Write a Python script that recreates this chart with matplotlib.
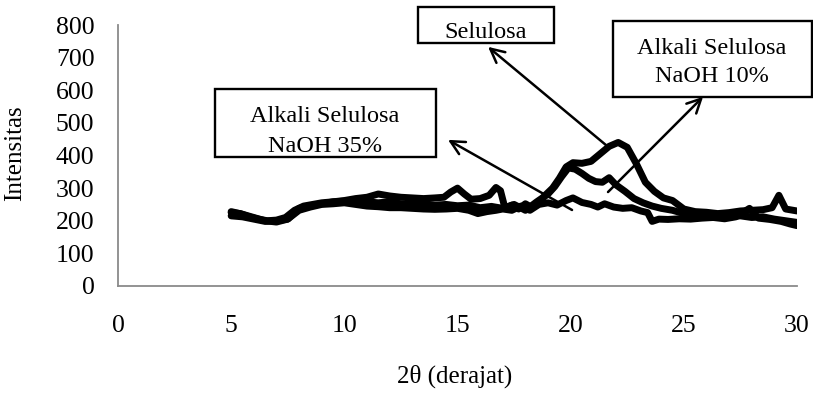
import matplotlib
matplotlib.use("Agg")
import matplotlib.pyplot as plt
from matplotlib.patches import Rectangle

# Difractogramas leidos a ojo de la figura original
x_sel = [5.0, 5.4, 5.8, 6.2, 6.6, 7.0, 7.4, 7.8, 8.2, 8.6, 9.0, 9.5, 10.0, 10.5, 11.0, 11.5, 12.0, 12.5,
         13.0, 13.5, 14.0, 14.4, 14.7, 15.0, 15.3, 15.6, 16.0, 16.4, 16.7, 16.9, 17.1, 17.4, 17.7, 18.0,
         18.3, 18.6, 18.9, 19.2, 19.5, 19.8, 20.1, 20.5, 20.9, 21.3, 21.7, 22.1, 22.5, 22.9, 23.3, 23.7,
         24.1, 24.5, 25.0, 25.5, 26.0, 26.5, 27.0, 27.5, 28.0, 28.5, 28.9, 29.2, 29.5, 30.0]
y_sel = [225, 222, 212, 205, 200, 202, 210, 232, 245, 250, 255, 258, 262, 268, 272, 282, 276, 272,
         270, 268, 270, 272, 288, 300, 282, 266, 268, 278, 302, 292, 238, 248, 236, 252,
         240, 255, 280, 300, 330, 365, 378, 376, 382, 405, 428, 440, 425, 375, 318, 290,
         270, 262, 236, 228, 226, 222, 225, 230, 232, 234, 240, 278, 236, 230]

x_10 = [5.0, 5.5, 6.0, 6.5, 7.0, 7.5, 8.0, 8.5, 9.0, 9.5, 10.0, 10.5, 11.0, 11.5, 12.0, 12.5, 13.0, 13.5,
        14.0, 14.5, 15.0, 15.5, 16.0, 16.5, 17.0, 17.5, 18.0, 18.5, 19.0, 19.3, 19.6, 19.9, 20.2, 20.5,
        20.8, 21.1, 21.4, 21.7, 22.0, 22.4, 22.8, 23.2, 23.6, 24.0, 24.5, 25.0, 25.5, 26.0, 26.5, 27.0,
        27.5, 28.0, 28.5, 29.0, 29.5, 30.0]
y_10 = [228, 220, 210, 200, 196, 205, 238, 246, 252, 258, 260, 262, 258, 255, 258, 252, 250, 252,
        248, 250, 246, 248, 240, 244, 238, 250, 232, 258, 282, 305, 335, 362, 358, 345,
        330, 320, 318, 332, 310, 290, 268, 255, 245, 238, 232, 222, 216, 212, 210, 212,
        215, 210, 212, 205, 200, 195]

x_35 = [5.0, 5.5, 6.0, 6.5, 7.0, 7.5, 8.0, 8.5, 9.0, 9.5, 10.0, 10.5, 11.0, 11.5, 12.0, 12.5, 13.0, 13.5,
        14.0, 14.5, 15.0, 15.5, 15.9, 16.3, 16.7, 17.0, 17.4, 17.8, 18.2, 18.6, 19.0, 19.4, 19.8, 20.1,
        20.5, 20.9, 21.2, 21.5, 21.9, 22.3, 22.7, 23.1, 23.4, 23.6, 23.9, 24.3, 24.8, 25.3, 25.8, 26.3,
        26.8, 27.3, 27.9, 28.3, 28.8, 29.3, 29.7, 30.0]
y_35 = [215, 212, 205, 198, 200, 205, 232, 242, 250, 252, 255, 250, 245, 243, 240, 240, 238, 236,
        235, 236, 238, 232, 222, 228, 232, 236, 232, 245, 232, 250, 255, 248, 262, 270,
        256, 250, 242, 252, 242, 238, 240, 230, 225, 198, 205, 204, 206, 205, 208, 210,
        206, 212, 238, 208, 204, 198, 190, 185]

y_ticks = [0, 100, 200, 300, 400, 500, 600, 700, 800]
x_ticks = [0, 5, 10, 15, 20, 25, 30]

W, H = 813, 396
plt.rcParams["font.family"] = ["Liberation Serif", "DejaVu Serif"]

fig = plt.figure(figsize=(W / 100, H / 100), dpi=100)
ax = fig.add_axes([118 / W, 1 - 286 / H, (797 - 118) / W, (286 - 25) / H])

for xs, ys in [(x_35, y_35), (x_10, y_10), (x_sel, y_sel)]:
    ax.plot(xs, ys, color="black", lw=5, solid_joinstyle="round", solid_capstyle="round")

ax.set_xlim(0, 30)
ax.set_ylim(0, 800)
ax.set_xticks(x_ticks)
ax.set_yticks(y_ticks)
ax.tick_params(length=0, labelsize=18.5)
ax.tick_params(axis="y", pad=17)
ax.tick_params(axis="x", pad=21)
for s in ["top", "right"]:
    ax.spines[s].set_visible(False)
for s in ["left", "bottom"]:
    ax.spines[s].set_color("#8a8a8a")
    ax.spines[s].set_linewidth(1.3)


def fx(px):
    return px / W


def fy(py):
    return 1 - py / H


fig.text(fx(455), fy(376), "2θ (derajat)", ha="center", va="center", fontsize=18)
fig.text(fx(15), fy(153), "Intensitas", ha="center", va="center", rotation=90, fontsize=18)

# Cajas de las etiquetas (pixeles de la figura)
cajas = [(418, 7, 554, 43), (613, 21, 812, 97), (215, 89, 436, 157)]
for x0, y0, x1, y1 in cajas:
    fig.add_artist(Rectangle((fx(x0), fy(y1)), fx(x1 - x0), (y1 - y0) / H,
                             transform=fig.transFigure, fill=False, ec="black", lw=1.7))

textos = [("Selulosa", 486, 32), ("Alkali Selulosa", 712, 48), ("NaOH 10%", 712, 77),
          ("Alkali Selulosa", 325, 117), ("NaOH 35%", 325, 147)]
for t, px, py in textos:
    fig.text(fx(px), fy(py), t, ha="center", va="center", fontsize=17.5)

# Flechas (cola en la curva, punta en la caja)
flechas = [((21.56, 432), (16.35, 733)), ((21.65, 288), (25.85, 580)), ((20.06, 233), (14.58, 448))]
for cola, punta in flechas:
    ax.annotate("", xy=punta, xytext=cola, annotation_clip=False,
                arrowprops=dict(arrowstyle="->,head_length=1.0,head_width=0.5", color="black", lw=1.8,
                                shrinkA=0, shrinkB=0))

fig.savefig("out.png", dpi=100)
